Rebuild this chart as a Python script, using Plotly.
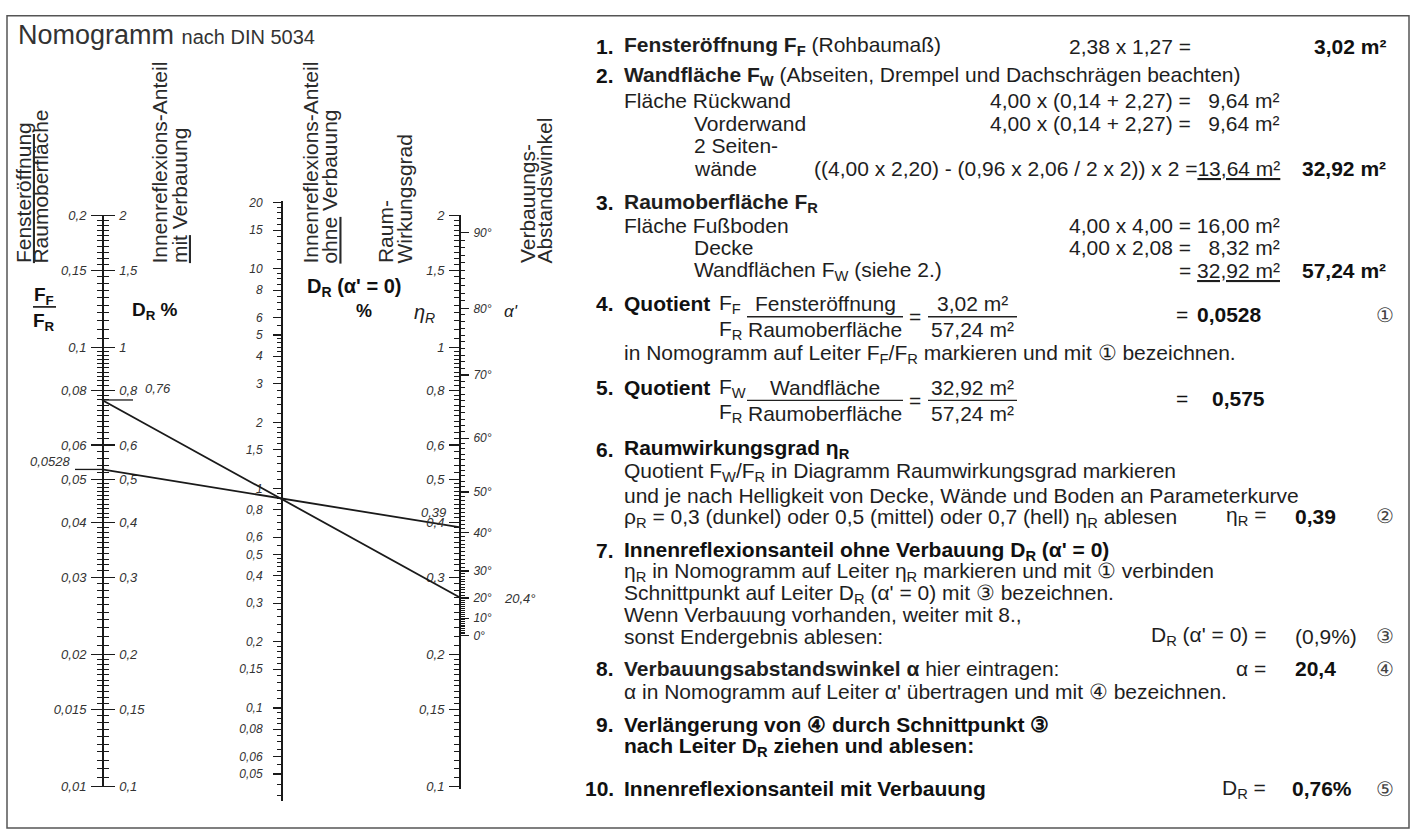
import numpy as np
import plotly.graph_objects as go

W, H = 1415, 837
FONT = "Liberation Sans, Arial, Helvetica, sans-serif"

# ---------------- data ----------------
FF_FR_TICKS = [0.2, 0.15, 0.1, 0.08, 0.06, 0.05, 0.04, 0.03, 0.02, 0.015, 0.01]
DR_TICKS = [2, 1.5, 1, 0.8, 0.6, 0.5, 0.4, 0.3, 0.2, 0.15, 0.1]
DR0_TICKS = [20, 15, 10, 8, 6, 5, 4, 3, 2, 1.5, 1, 0.8, 0.6, 0.5, 0.4, 0.3, 0.2,
             0.15, 0.1, 0.08, 0.06, 0.05]
ETA_TICKS = [2, 1.5, 1, 0.8, 0.6, 0.5, 0.4, 0.3, 0.2, 0.15, 0.1]
ALPHA_DEG = [0, 10, 20, 30, 40, 50, 60, 70, 80, 90]
# where each alpha' mark sits on the eta_R scale
ALPHA_POS = [0.221, 0.242, 0.269, 0.310, 0.379, 0.469, 0.622, 0.866, 1.229, 1.828]

FF_FR_VALUE = 0.0528   # (1)
ETA_VALUE = 0.39       # (2)
DR0_VALUE = 0.9        # (3)
ALPHA_VALUE = 20.4     # (4)
DR_VALUE = 0.76        # (5)
FF_TO_DR = 10          # F_F/F_R scale = D_R % scale / 10 on the first ladder

# ---------------- layout helpers ----------------
X1, X2, X3 = 102, 281, 459
PPD = (793 - 212) / np.log10(20)   # pixels per decade of outer ladders


def px(x):
    return x / W


def py(y):
    return 1 - y / H


def de(v):
    return ("%g" % v).replace(".", ",")


def log_range(val_ref, pix_ref, ppd, pix_top, pix_bot):
    lr = np.log10(val_ref)
    return [lr - (pix_bot - pix_ref) / ppd, lr + (pix_ref - pix_top) / ppd]


def dom(pix_top, pix_bot):
    return [1 - pix_bot / H, 1 - pix_top / H]


def ladder(segments):
    out = []
    for a, b, s in segments:
        n = int(round((b - a) / s))
        out += [round(a + i * s, 6) for i in range(n + 1)]
    return sorted(set(out))


def alpha_to_eta(a):
    return 10 ** np.interp(a, ALPHA_DEG, np.log10(ALPHA_POS))


INK = "#1a1a1a"
LBL = "#333333"

base = dict(type="log", anchor="free", showgrid=False, zeroline=False,
            showline=True, linecolor=INK, linewidth=1.6, ticks="outside",
            tickcolor=INK, tickwidth=1.2, tickmode="array", fixedrange=True,
            tickfont=dict(family=FONT, size=13, color=LBL, style="italic"))

ff_minor = ladder([(0.01, 0.02, 0.0005), (0.02, 0.05, 0.001),
                   (0.05, 0.1, 0.002), (0.1, 0.2, 0.005)])
dr_minor = [round(v * FF_TO_DR, 6) for v in ff_minor]
dr0_minor = ladder([(0.04, 0.1, 0.005), (0.1, 0.2, 0.01), (0.2, 0.5, 0.02),
                    (0.5, 1, 0.05), (1, 2, 0.1), (2, 5, 0.2), (5, 10, 0.5),
                    (10, 20, 1)])
eta_minor = ladder([(0.1, 0.2, 0.005), (0.2, 0.5, 0.01), (0.5, 1, 0.02),
                    (1, 2, 0.05)])
alpha_minor = [float(alpha_to_eta(d)) for d in range(0, 91)]

yF = dict(base, side="left", position=px(X1), domain=dom(211.5, 793.5),
          range=log_range(0.2, 212, PPD, 211.5, 793.5),
          tickvals=FF_FR_TICKS, ticktext=[de(v) for v in FF_FR_TICKS],
          ticklen=11, ticklabelstandoff=2,
          minor=dict(tickvals=ff_minor, ticklen=5, tickwidth=1, tickcolor=INK,
                     ticks="outside"))
yD = dict(base, side="right", position=px(X1), domain=dom(211.5, 793.5),
          range=log_range(2, 212, PPD, 211.5, 793.5),
          tickvals=DR_TICKS, ticktext=[de(v) for v in DR_TICKS],
          ticklen=11, ticklabelstandoff=2,
          minor=dict(tickvals=dr_minor, ticklen=5, tickwidth=1, tickcolor=INK,
                     ticks="outside"))
yM = dict(base, side="left", position=px(X2), domain=dom(197, 807),
          range=log_range(1, 489.6, PPD / 2, 197, 807),
          tickvals=DR0_TICKS, ticktext=[de(v) for v in DR0_TICKS],
          ticklen=8, ticklabelstandoff=8,
          tickfont=dict(family=FONT, size=12, color=LBL, style="italic"),
          minor=dict(tickvals=dr0_minor, ticklen=4, tickwidth=1, tickcolor=INK,
                     ticks="outside"))
yE = dict(base, side="left", position=px(X3), domain=dom(211.5, 795),
          range=log_range(2, 212, PPD, 211.5, 795),
          tickvals=ETA_TICKS, ticktext=[de(v) for v in ETA_TICKS],
          ticklen=10, ticklabelstandoff=2,
          minor=dict(tickvals=eta_minor, ticklen=5, tickwidth=1, tickcolor=INK,
                     ticks="outside"))
yA = dict(base, side="right", position=px(X3), domain=dom(211.5, 795),
          range=log_range(2, 212, PPD, 211.5, 795), showline=False,
          tickvals=ALPHA_POS, ticktext=["%d°" % d for d in ALPHA_DEG],
          ticklen=9, ticklabelstandoff=2,
          tickfont=dict(family=FONT, size=12, color=LBL, style="italic"),
          minor=dict(tickvals=alpha_minor, ticklen=5, tickwidth=1, tickcolor=INK,
                     ticks="outside"))

fig = go.Figure()

line_style = dict(color=INK, width=1.8)
# line 1: F_F/F_R (1) -> eta_R (2)
fig.add_trace(go.Scatter(x=[X1, X3], y=[FF_FR_VALUE * FF_TO_DR, ETA_VALUE],
                         xaxis="x", yaxis="y4", mode="lines", line=line_style,
                         hoverinfo="skip", showlegend=False))
# line 2: D_R (5) -> alpha' (4)
fig.add_trace(go.Scatter(x=[X1, X3], y=[DR_VALUE, alpha_to_eta(ALPHA_VALUE)],
                         xaxis="x", yaxis="y5", mode="lines", line=line_style,
                         hoverinfo="skip", showlegend=False))
# marks on the first ladder
fig.add_trace(go.Scatter(x=[75, X1], y=[FF_FR_VALUE, FF_FR_VALUE], xaxis="x",
                         yaxis="y", mode="lines", line=dict(color=INK, width=1.3),
                         hoverinfo="skip", showlegend=False))
fig.add_trace(go.Scatter(x=[X1, 133], y=[DR_VALUE, DR_VALUE], xaxis="x",
                         yaxis="y2", mode="lines", line=dict(color=INK, width=1.3),
                         hoverinfo="skip", showlegend=False))
# intersection point (3) on the middle ladder
fig.add_trace(go.Scatter(x=[X2], y=[DR0_VALUE], xaxis="x", yaxis="y3",
                         mode="markers", marker=dict(size=1, color=INK, opacity=0),
                         hoverinfo="skip", showlegend=False))

annotations = []


def A(x, y, text, size=21, xa="left", ya="middle", color="#1e1e1e", angle=0,
      style=None, xref="paper", yref="paper", **kw):
    f = dict(family=FONT, size=size, color=color)
    if style:
        f["style"] = style
    if yref == "paper":
        yy = py(y)
    else:
        yy = float(np.log10(y))   # log axes take log10 positions
    d = dict(x=px(x) if xref == "paper" else x, y=yy,
             xref=xref, yref=yref, text=text, showarrow=False, xanchor=xa,
             yanchor=ya, font=f, textangle=angle, align="left")
    d.update(kw)
    annotations.append(d)


# ---- nomogram texts ----
A(16, 28, "Nomogramm <span style='font-size:20px'>nach DIN 5034</span>",
  size=27, color="#333")

for x, t in [(23, "<u>Fensteröffnung</u>"), (41, "Raumoberfläche"),
             (160, "Innenreflexions-Anteil"), (179, "<u>mit</u> Verbauung"),
             (311, "Innenreflexions-Anteil"), (330, "<u>ohne</u> Verbauung"),
             (385, "Raum-"), (405, "Wirkungsgrad"),
             (527, "Verbauungs-"), (545, "Abstandswinkel")]:
    A(x, 263, t, size=21, xa="center", ya="bottom", angle=-90, color="#2a2a2a")

A(44, 294, "<b>F<sub>F</sub></b>", size=19, xa="center", color="#111")
A(44, 320, "<b>F<sub>R</sub></b>", size=19, xa="center", color="#111")
A(130, 309, "<b>D<sub>R</sub> %</b>", size=19, color="#111")
A(305, 285, "<b>D<sub>R</sub> (α' = 0)</b>", size=20, color="#111")
A(364, 309, "<b>%</b>", size=18, xa="center", color="#111")
A(412, 312, "<i>η<sub>R</sub></i>", size=20, color="#222")
A(502, 310, "<i>α'</i>", size=17, color="#222")

lab = dict(size=13, style="italic", color=LBL)
A(50, FF_FR_VALUE, de(FF_FR_VALUE), xa="center", xref="x", yref="y",
  yshift=8, **lab)
A(143, DR_VALUE, de(DR_VALUE), xa="left", xref="x", yref="y2", yshift=11, **lab)
A(433, ETA_VALUE, de(ETA_VALUE), xa="center", xref="x", yref="y4", yshift=15,
  **lab)
A(502, float(alpha_to_eta(ALPHA_VALUE)), de(ALPHA_VALUE) + "°", xa="left",
  xref="x", yref="y5", yshift=-2, **lab)

# ---- right-hand calculation text ----
NUMX, TX, IX = 616, 622, 692
BLK = "#111"
CIRC = dict(xa="center", size=20, color="#444")


def num(y, n):
    A(NUMX, y, "<b>%s.</b>" % n, xa="right", color=BLK)


num(40, 1)
A(TX, 40, "<b>Fensteröffnung F<sub>F</sub></b> (Rohbaumaß)")
A(1067, 40, "2,38 x 1,27 =")
A(1388, 40, "<b>3,02 m²</b>", xa="right", color=BLK)

num(70, 2)
A(TX, 70, "<b>Wandfläche F<sub>W</sub></b> (Abseiten, Drempel und Dachschrägen beachten)")
A(TX, 95, "Fläche Rückwand")
A(1282, 95, "4,00 x (0,14 + 2,27) =   9,64 m²", xa="right")
A(IX, 118, "Vorderwand")
A(1282, 118, "4,00 x (0,14 + 2,27) =   9,64 m²", xa="right")
A(IX, 141, "2 Seiten-")
A(IX, 164, "wände")
A(1282, 164, "((4,00 x 2,20) - (0,96 x 2,06 / 2 x 2)) x 2 =<u>13,64 m²</u>",
  xa="right")
A(1388, 164, "<b>32,92 m²</b>", xa="right", color=BLK)

num(199, 3)
A(TX, 199, "<b>Raumoberfläche F<sub>R</sub></b>")
A(TX, 222, "Fläche Fußboden")
A(1282, 222, "4,00 x 4,00 = 16,00 m²", xa="right")
A(IX, 245, "Decke")
A(1282, 245, "4,00 x 2,08 =   8,32 m²", xa="right")
A(IX, 268, "Wandflächen F<sub>W</sub> (siehe 2.)")
A(1282, 268, "= <u>32,92 m²</u>", xa="right")
A(1388, 268, "<b>57,24 m²</b>", xa="right", color=BLK)

shapes = []


def hline(x0, x1, y, w=1.3, color="#222"):
    shapes.append(dict(type="line", xref="paper", yref="paper", x0=px(x0),
                       x1=px(x1), y0=py(y), y1=py(y),
                       line=dict(color=color, width=w)))


def quotient(y, n, sub, numer, val_num):
    num(y, n)
    A(TX, y, "<b>Quotient</b>", color=BLK)
    A(717, y, "F<sub>%s</sub>" % sub)
    A(717, y + 26, "F<sub>R</sub>")
    A(825, y, numer, xa="center")
    A(825, y + 26, "Raumoberfläche", xa="center")
    hline(747, 903, y + 13)
    A(915, y + 13, "=", xa="center")
    A(972, y, val_num, xa="center")
    A(972, y + 26, "57,24 m²", xa="center")
    hline(928, 1017, y + 13)


quotient(302, 4, "F", "Fensteröffnung", "3,02 m²")
A(1182, 313, "=", xa="center", color=BLK)
A(1195, 313, "<b>0,0528</b>", color=BLK)
A(1385, 313, "①", **CIRC)
A(TX, 353, "in Nomogramm auf Leiter F<sub>F</sub>/F<sub>R</sub> markieren und mit ① bezeichnen.")

quotient(387, 5, "W", "Wandfläche", "32,92 m²")
A(1182, 398, "=", xa="center", color=BLK)
A(1210, 398, "<b>0,575</b>", color=BLK)

num(450, 6)
A(TX, 450, "<b>Raumwirkungsgrad η<sub>R</sub></b>", color=BLK)
A(TX, 473, "Quotient F<sub>W</sub>/F<sub>R</sub> in Diagramm Raumwirkungsgrad markieren")
A(TX, 497, "und je nach Helligkeit von Decke, Wände und Boden an Parameterkurve")
A(TX, 520, "ρ<sub>R</sub> = 0,3 (dunkel) oder 0,5 (mittel) oder 0,7 (hell) η<sub>R</sub> ablesen")
A(1268, 518, "η<sub>R</sub> =", xa="right")
A(1293, 518, "<b>0,39</b>", color=BLK)
A(1385, 518, "②", **CIRC)

num(553, 7)
A(TX, 553, "<b>Innenreflexionsanteil ohne Verbauung D<sub>R</sub> (α' = 0)</b>", color=BLK)
A(TX, 575, "η<sub>R</sub> in Nomogramm auf Leiter η<sub>R</sub> markieren und mit ① verbinden")
A(TX, 597, "Schnittpunkt auf Leiter D<sub>R</sub> (α' = 0) mit ③ bezeichnen.")
A(TX, 618, "Wenn Verbauung vorhanden, weiter mit 8.,")
A(TX, 640, "sonst Endergebnis ablesen:")
A(1268, 640, "D<sub>R</sub> (α' = 0) =", xa="right")
A(1293, 640, "(0,9%)")
A(1385, 640, "③", **CIRC)

num(673, 8)
A(TX, 673, "<b>Verbauungsabstandswinkel α</b> hier eintragen:")
A(1268, 673, "α =", xa="right")
A(1293, 673, "<b>20,4</b>", color=BLK)
A(1385, 673, "④", **CIRC)
A(TX, 696, "α in Nomogramm auf Leiter α' übertragen und mit ④ bezeichnen.")

num(730, 9)
A(TX, 730, "<b>Verlängerung von ④ durch Schnittpunkt ③</b>", color=BLK)
A(TX, 753, "<b>nach Leiter D<sub>R</sub> ziehen und ablesen:</b>", color=BLK)

num(795, 10)
A(TX, 795, "<b>Innenreflexionsanteil mit Verbauung</b>", color=BLK)
A(1268, 795, "D<sub>R</sub> =", xa="right")
A(1290, 795, "<b>0,76%</b>", color=BLK)
A(1385, 795, "⑤", **CIRC)

# fraction bar of F_F / F_R label
hline(33, 56, 305, w=1.6, color="#111")
# frame
shapes.append(dict(type="rect", xref="paper", yref="paper", x0=px(7), x1=px(1409),
                   y0=py(835), y1=py(9), line=dict(color="#555", width=1.5)))

fig.update_layout(
    width=W, height=H, margin=dict(l=0, r=0, t=0, b=0),
    paper_bgcolor="white", plot_bgcolor="rgba(0,0,0,0)", showlegend=False,
    xaxis=dict(range=[0, W], domain=[0, 1], visible=False, fixedrange=True,
               anchor="y4"),
    yaxis=yF, yaxis2=yD, yaxis3=yM, yaxis4=yE, yaxis5=yA,
    annotations=annotations, shapes=shapes,
    font=dict(family=FONT, color="#1e1e1e"),
)

fig.write_html("out.html",
               config={"displayModeBar": False, "staticPlot": True},
               post_script="document.body.style.margin='0';"
                           "document.body.style.overflow='hidden';")
